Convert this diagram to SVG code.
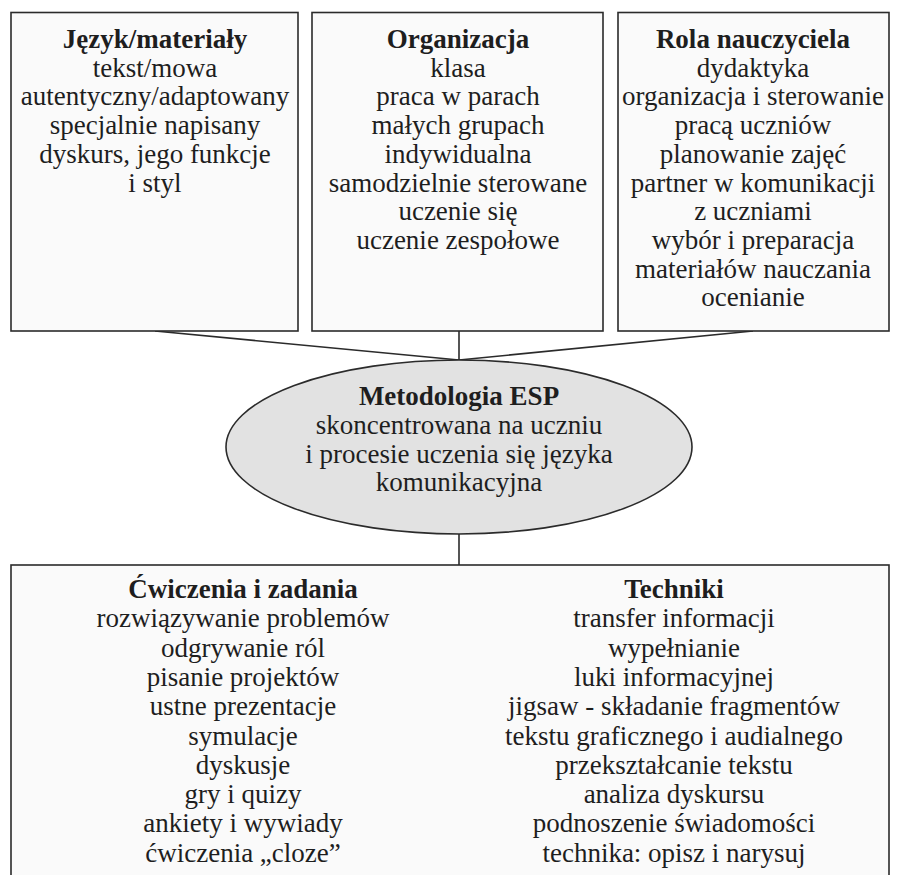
<svg xmlns="http://www.w3.org/2000/svg" width="900" height="875" viewBox="0 0 900 875">
<style>
  .box { fill: #fafafa; stroke: #2b2b2b; stroke-width: 1.6; }
  .ell { fill: #e2e2e2; stroke: #2b2b2b; stroke-width: 1.6; }
  .conn line { stroke: #2b2b2b; stroke-width: 1.6; }
  text { font-family: 'Liberation Serif', 'DejaVu Serif', serif; font-size: 27px; fill: #1e1e1e; text-anchor: middle; }
  .h { font-weight: bold; }
</style>
<rect width="900" height="875" fill="#ffffff"/>
<g class="conn" id="connectors">
  <line x1="155" y1="331" x2="459" y2="360"/>
  <line x1="459" y1="331" x2="459" y2="360"/>
  <line x1="753" y1="331" x2="459" y2="360"/>
  <line x1="459" y1="534" x2="459" y2="565"/>
</g>
<g id="jezyk">
  <rect class="box" x="11" y="12.5" width="287" height="318.5"/>
  <text x="155" y="48" class="h">Język/materiały</text>
  <text x="155" y="76.7">tekst/mowa</text>
  <text x="155" y="105.4">autentyczny/adaptowany</text>
  <text x="155" y="134.1">specjalnie napisany</text>
  <text x="155" y="162.8">dyskurs, jego funkcje</text>
  <text x="155" y="191.5">i styl</text>
</g>
<g id="organizacja">
  <rect class="box" x="312" y="12.5" width="291" height="318.5"/>
  <text x="458" y="48" class="h">Organizacja</text>
  <text x="458" y="76.7">klasa</text>
  <text x="458" y="105.4">praca w parach</text>
  <text x="458" y="134.1">małych grupach</text>
  <text x="458" y="162.8">indywidualna</text>
  <text x="458" y="191.5">samodzielnie sterowane</text>
  <text x="458" y="220.2">uczenie się</text>
  <text x="458" y="248.9">uczenie zespołowe</text>
</g>
<g id="rola">
  <rect class="box" x="618" y="12.5" width="271" height="318.5"/>
  <text x="753" y="48" class="h">Rola nauczyciela</text>
  <text x="753" y="76.7">dydaktyka</text>
  <text x="753" y="105.4">organizacja i sterowanie</text>
  <text x="753" y="134.1">pracą uczniów</text>
  <text x="753" y="162.8">planowanie zajęć</text>
  <text x="753" y="191.5">partner w komunikacji</text>
  <text x="753" y="220.2">z uczniami</text>
  <text x="753" y="248.9">wybór i preparacja</text>
  <text x="753" y="277.6">materiałów nauczania</text>
  <text x="753" y="306.3">ocenianie</text>
</g>
<g id="metodologia">
  <ellipse class="ell" cx="459" cy="447" rx="233" ry="87"/>
  <text x="459" y="405" class="h">Metodologia ESP</text>
  <text x="459" y="434">skoncentrowana na uczniu</text>
  <text x="459" y="462.5">i procesie uczenia się języka</text>
  <text x="459" y="491">komunikacyjna</text>
</g>
<g id="cwiczenia-techniki">
  <rect class="box" x="11" y="565" width="878" height="330"/>
  <text x="243" y="598" class="h">Ćwiczenia i zadania</text>
  <text x="243" y="627.3">rozwiązywanie problemów</text>
  <text x="243" y="656.6">odgrywanie ról</text>
  <text x="243" y="685.9">pisanie projektów</text>
  <text x="243" y="715.2">ustne prezentacje</text>
  <text x="243" y="744.5">symulacje</text>
  <text x="243" y="773.8">dyskusje</text>
  <text x="243" y="803.1">gry i quizy</text>
  <text x="243" y="832.4">ankiety i wywiady</text>
  <text x="243" y="861.7">ćwiczenia „cloze”</text>
  <text x="674" y="598" class="h">Techniki</text>
  <text x="674" y="627.3">transfer informacji</text>
  <text x="674" y="656.6">wypełnianie</text>
  <text x="674" y="685.9">luki informacyjnej</text>
  <text x="674" y="715.2">jigsaw - składanie fragmentów</text>
  <text x="674" y="744.5">tekstu graficznego i audialnego</text>
  <text x="674" y="773.8">przekształcanie tekstu</text>
  <text x="674" y="803.1">analiza dyskursu</text>
  <text x="674" y="832.4">podnoszenie świadomości</text>
  <text x="674" y="861.7">technika: opisz i narysuj</text>
</g>
</svg>
